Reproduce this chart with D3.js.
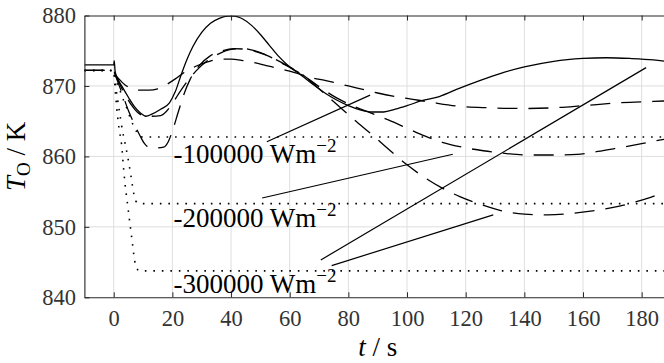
<!DOCTYPE html>
<html>
<head>
<meta charset="utf-8">
<script src="https://cdn.jsdelivr.net/npm/d3@7"></script>
<style>
  html, body { margin: 0; padding: 0; background: #fff; }
  svg { display: block; }
  text { font-family: "Liberation Serif", "DejaVu Serif", serif; }
</style>
</head>
<body>
<svg id="chart" width="664" height="363"></svg>
<script>
// Outlet temperature T_O over time for three heat-flux steps

const xTicks = [0, 20, 40, 60, 80, 100, 120, 140, 160, 180];
const yTicks = [840, 850, 860, 870, 880];

// [t (s), T_O (K)]
const solidResponse = [
  [-10, 873.0], [0, 873.0], [0.15, 873.6], [0.5, 872.0], [1.5, 870.9], [3, 869.8], [5, 868.4],
  [7, 867.1], [9, 866.2], [11, 865.7], [13, 866.0], [16, 866.7], [19, 867.6], [21, 869.2],
  [23, 871.6], [25, 873.8], [27, 875.6], [30, 877.6], [33, 878.9], [36, 879.6], [39, 879.9],
  [41, 879.9], [44, 879.5], [47, 878.6], [50, 877.3], [53, 875.8], [56, 874.3], [60, 872.7],
  [64, 871.5], [68, 870.2], [72, 869.0], [76, 868.0], [80, 867.2], [84, 866.6], [88, 866.3],
  [92, 866.3], [96, 866.7], [100, 867.2], [105, 867.9], [111, 868.5], [118, 869.7], [125, 870.8],
  [132, 871.8], [140, 872.7], [150, 873.5], [160, 873.9], [168, 874.0], [176, 873.9],
  [184, 873.7], [190, 873.4]
];

const dashed100k = [
  [-10, 872.2], [0, 872.2], [0.5, 871.7], [2, 870.9], [4, 870.1], [6, 869.7], [9, 869.4],
  [12, 869.4], [15, 869.6], [18, 870.2], [21, 871.0], [24, 871.9], [28, 872.8], [32, 873.4],
  [36, 873.8], [40, 873.8], [44, 873.6], [48, 873.3], [52, 872.9], [56, 872.5], [60, 872.1],
  [64, 871.6], [68, 871.1], [72, 870.8], [76, 870.4], [80, 870.0], [86, 869.4], [90, 869.0],
  [96, 868.5], [102, 868.1], [108, 867.7], [118, 867.1], [128, 866.9], [140, 866.8],
  [150, 866.9], [160, 867.2], [172, 867.6], [184, 867.8], [190, 867.9]
];

const dashed200k = [
  [-10, 872.2], [0, 872.2], [0.5, 871.6], [2, 870.3], [4, 868.7], [6, 867.3], [8, 866.3],
  [10, 865.8], [13, 865.7], [16, 865.8], [18, 866.4], [20, 867.5], [22, 868.8], [25, 870.6],
  [28, 872.1], [32, 873.6], [36, 874.6], [40, 875.2], [44, 875.3], [48, 875.0], [52, 874.4],
  [56, 873.6], [60, 872.7], [64, 871.7], [70, 869.9], [76, 868.3], [82, 867.1], [88, 866.1],
  [94, 865.1], [100, 864.0], [106, 862.9], [112, 862.0], [119, 861.3], [126, 860.8],
  [134, 860.4], [142, 860.2], [150, 860.2], [158, 860.3], [165, 860.7], [172, 861.2],
  [180, 861.8], [186, 862.3], [190, 862.6]
];

const dashed300k = [
  [-10, 872.2], [0, 872.2], [1, 871.0], [3, 868.8], [5, 866.5], [7, 864.6], [9, 862.9],
  [10.5, 861.8], [12, 861.3], [15, 861.2], [17, 861.3], [18.5, 862.0], [20, 863.6], [22, 866.3],
  [24, 868.9], [26, 870.9], [29, 872.8], [33, 874.3], [37, 875.0], [41, 875.3], [45, 875.2],
  [49, 874.8], [53, 874.2], [57, 873.3], [61, 872.4], [64, 871.7], [70, 869.6], [76, 867.4],
  [82, 865.2], [88, 863.1], [94, 860.9], [100, 858.8], [106, 857.0], [112, 855.5], [118, 854.3],
  [125, 853.2], [132, 852.3], [140, 851.8], [148, 851.7], [156, 851.9], [164, 852.3],
  [172, 852.9], [180, 853.8], [186, 854.6], [190, 855.1]
];

const dotted100k = [
  [-10, 872.2], [0, 872.2], [1, 870.6], [2.1, 869.4], [3.3, 868.0], [4.4, 866.9], [5.6, 865.5],
  [6.7, 864.4], [7.8, 863.5], [9, 862.8], [10, 862.75], [190, 862.75]
];

const dotted200k = [
  [-10, 872.2], [0, 872.2], [0.5, 870.5], [1.2, 868.4], [2, 866.2], [3, 863.6], [4, 861.6],
  [5, 859.4], [6, 856.9], [6.8, 854.8], [7.5, 853.7], [8.5, 853.3], [190, 853.3]
];

const dotted300k = [
  [-10, 872.2], [0, 872.2], [0.4, 870.0], [1, 867.0], [1.8, 864.0], [2.7, 861.6], [3.3, 858.6],
  [3.9, 855.9], [4.5, 853.9], [5.1, 851.9], [5.7, 849.9], [6.3, 847.9], [6.9, 845.9],
  [7.3, 844.8], [8, 844.0], [8.8, 843.75], [190, 843.75]
];

const fluxLabels = ["-100000", "-200000", "-300000"];
const labelAnchors = [[20.4, 859.05], [20.4, 850.0], [20.4, 840.6]];

// straight pointer lines from the flux labels to the curves
const leaderLines = [
  [[52.2, 862.07], [87.4, 868.7]],
  [[50.6, 854.1], [115.6, 860.3]],
  [[70.6, 845.3], [181.5, 872.6]],
  [[74.3, 844.5], [129.4, 851.7]]
];

const svg = d3.select("#chart");
const x = d3.scaleLinear().domain([-10, 190]).range([84.4, 671]);
const y = d3.scaleLinear().domain([840, 880]).range([297.3, 15.5]);

const axisColor = "#262626";
const serif = '"Liberation Serif", "DejaVu Serif", serif';

svg.append("defs").append("clipPath").attr("id", "plot-clip")
  .append("rect")
  .attr("x", x(-10)).attr("y", y(880))
  .attr("width", x(190) - x(-10)).attr("height", y(840) - y(880));

// grid
const grid = svg.append("g").attr("stroke", "#dedede").attr("stroke-width", 1);
grid.selectAll("line.vx").data(xTicks).join("line")
  .attr("x1", d => x(d)).attr("x2", d => x(d))
  .attr("y1", y(840)).attr("y2", y(880));
grid.selectAll("line.hy").data(yTicks.filter(v => v > 840 && v < 880)).join("line")
  .attr("x1", x(-10)).attr("x2", x(190))
  .attr("y1", d => y(d)).attr("y2", d => y(d));

// data curves
const line = d3.line().x(d => x(d[0])).y(d => y(d[1])).curve(d3.curveMonotoneX);
const plot = svg.append("g").attr("clip-path", "url(#plot-clip)").attr("fill", "none").attr("stroke", "#000");

const dottedSeries = [dotted100k, dotted200k, dotted300k];
plot.selectAll("path.dot").data(dottedSeries).join("path")
  .attr("d", line)
  .attr("stroke-width", 1.6)
  .attr("stroke-dasharray", "1.6 6.9");

const dashedSeries = [dashed100k, dashed200k, dashed300k];
plot.selectAll("path.dash").data(dashedSeries).join("path")
  .attr("d", line)
  .attr("stroke-width", 1.3)
  .attr("stroke-dasharray", "20 11");

plot.append("path").datum(solidResponse)
  .attr("d", line)
  .attr("stroke-width", 1.3);

plot.selectAll("line.leader").data(leaderLines).join("line")
  .attr("x1", d => x(d[0][0])).attr("y1", d => y(d[0][1]))
  .attr("x2", d => x(d[1][0])).attr("y2", d => y(d[1][1]))
  .attr("stroke-width", 1.2);

// axes
const axisLeftG = svg.append("g").attr("transform", `translate(${x(-10)},0)`)
  .call(d3.axisLeft(y).tickValues(yTicks).tickSizeInner(-5).tickSizeOuter(0).tickPadding(8.4));
const axisBottomG = svg.append("g").attr("transform", `translate(0,${y(840)})`)
  .call(d3.axisBottom(x).tickValues(xTicks).tickSizeInner(-5).tickSizeOuter(0).tickPadding(12.4));
const axisTopG = svg.append("g").attr("transform", `translate(0,${y(880)})`)
  .call(d3.axisTop(x).tickValues(xTicks).tickSizeInner(-5).tickSizeOuter(0).tickFormat(""));
const axisRightG = svg.append("g").attr("transform", `translate(${x(190)},0)`)
  .call(d3.axisRight(y).tickValues(yTicks).tickSizeInner(-5).tickSizeOuter(0).tickFormat(""));

[axisLeftG, axisBottomG, axisTopG, axisRightG].forEach(g => {
  g.attr("font-family", serif).attr("font-size", 22.5);
  g.selectAll("path.domain").attr("stroke", axisColor).attr("stroke-width", 1.1);
  g.selectAll(".tick line").attr("stroke", axisColor).attr("stroke-width", 1);
  g.selectAll(".tick text").attr("fill", "#333");
});

// flux labels
const labels = svg.append("g").attr("fill", "#000").style("font-size", "27px");
labelAnchors.forEach((p, i) => {
  const t = labels.append("text").attr("x", x(p[0])).attr("y", y(p[1]));
  t.append("tspan").text(fluxLabels[i] + " Wm");
  t.append("tspan").attr("dy", -11).style("font-size", "19px").text("\u22122");
});

// axis titles
const xTitle = svg.append("text")
  .attr("x", (x(-10) + x(190)) / 2).attr("y", 356)
  .attr("text-anchor", "middle").attr("fill", "#000").style("font-size", "27px");
xTitle.append("tspan").style("font-style", "italic").text("t");
xTitle.append("tspan").text(" / s");

const yTitle = svg.append("text")
  .attr("transform", `translate(25,${(y(840) + y(880)) / 2}) rotate(-90)`)
  .attr("text-anchor", "middle").attr("fill", "#000").style("font-size", "27px");
yTitle.append("tspan").style("font-style", "italic").text("T");
yTitle.append("tspan").attr("dy", 5).style("font-size", "19px").text("O");
yTitle.append("tspan").attr("dy", -5).text(" / K");
</script>
</body>
</html>
